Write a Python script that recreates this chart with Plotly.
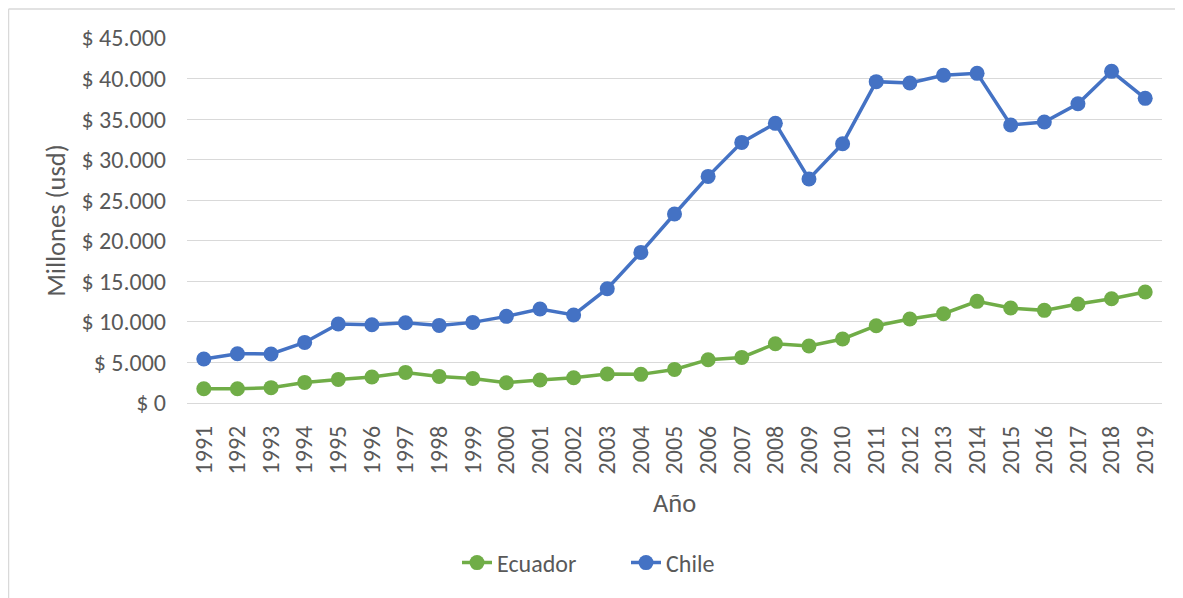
import plotly.graph_objects as go

# datos (millones de USD)
anios = [str(a) for a in range(1991, 2020)]

ecuador = [1760, 1760, 1890, 2540, 2910, 3200, 3770, 3280, 3030, 2500,
           2840, 3120, 3570, 3530, 4140, 5340, 5620, 7310, 7030, 7890,
           9530, 10360, 11010, 12530, 11710, 11420, 12210, 12860, 13690]

chile = [5430, 6080, 6040, 7470, 9740, 9650, 9900, 9570, 9940, 10680,
         11590, 10850, 14090, 18570, 23300, 27940, 32130, 34480, 27620, 31970,
         39620, 39460, 40400, 40640, 34280, 34650, 36900, 40890, 37560]

FUENTE = "Carlito, Calibri, Lato, 'Open Sans', sans-serif"
GRIS = "#595959"
GRILLA = "#D9D9D9"

fig = go.Figure()

fig.add_trace(go.Scatter(
    x=anios, y=ecuador, name="Ecuador", mode="lines+markers",
    line=dict(color="#70AD47", width=3.5),
    marker=dict(color="#70AD47", size=15),
))
fig.add_trace(go.Scatter(
    x=anios, y=chile, name="Chile", mode="lines+markers",
    line=dict(color="#4472C4", width=3.5),
    marker=dict(color="#4472C4", size=15),
))

# tamaño y márgenes en px (la página tiene 8px de margen en el body)
W, H = 1175, 590
L, T = 179, 30
R, B = W - 1154, H - 395
pw, ph = W - L - R, H - T - B

def px_x(p):
    return (p - L) / pw

def px_y(p):
    return (H - B - p) / ph

# marco del área del gráfico (izquierda y arriba)
fig.add_shape(type="line", xref="paper", yref="paper",
              x0=px_x(0.5), x1=px_x(W), y0=px_y(1), y1=px_y(1),
              line=dict(color=GRILLA, width=1.5))
fig.add_shape(type="line", xref="paper", yref="paper",
              x0=px_x(0.5), x1=px_x(0.5), y0=px_y(1), y1=px_y(H),
              line=dict(color=GRILLA, width=1.5))

fig.update_layout(
    width=W, height=H,
    margin=dict(l=L, r=R, t=T, b=B),
    plot_bgcolor="white", paper_bgcolor="white",
    separators=",.",
    font=dict(family=FUENTE, color=GRIS, size=24),
    showlegend=True,
    legend=dict(orientation="h", x=px_x(449), xanchor="left",
                y=px_y(555), yanchor="middle", entrywidth=124,
                font=dict(size=24, color=GRIS)),
)

fig.update_yaxes(
    range=[0, 45000], dtick=5000, tickformat=",d", tickprefix="$ ",
    showgrid=True, gridcolor=GRILLA, gridwidth=1.3,
    zeroline=False, showline=False, ticks="", ticklabelstandoff=20,
    tickfont=dict(size=24, color=GRIS),
    title=dict(text="Millones (usd)", font=dict(size=26.5, color=GRIS), standoff=8),
)
fig.update_xaxes(
    type="category", range=[-0.5, 28.5], tickangle=-90,
    showgrid=False, showline=True, linecolor=GRILLA, linewidth=1.3,
    ticks="", ticklabelstandoff=12, tickfont=dict(size=24, color=GRIS),
    title=dict(text="Año", font=dict(size=26.5, color=GRIS), standoff=20),
)

fig.write_html("out.html")
